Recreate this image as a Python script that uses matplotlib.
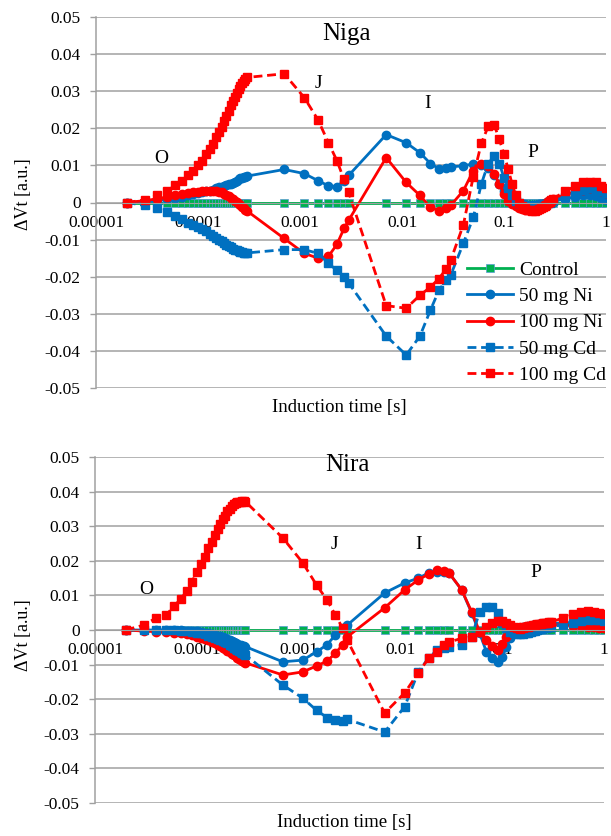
## Delta Vt curves (OJIP induction) for Niga and Nira under Ni / Cd treatment.

import matplotlib
matplotlib.use('Agg')
import matplotlib.pyplot as plt
from matplotlib.ticker import NullLocator

plt.rcParams['font.family'] = ['Liberation Serif', 'DejaVu Serif']

## induction time points [s]
time_s = [0.00002, 0.00003, 0.00004, 0.00005, 0.00006, 0.00007, 0.00008, 0.00009, 0.0001,
          0.00011, 0.00012, 0.00013, 0.00014, 0.00015, 0.00016, 0.00017, 0.00018, 0.00019, 0.0002,
          0.00021, 0.00022, 0.00023, 0.00024, 0.00025, 0.00026, 0.00027, 0.00028, 0.00029, 0.0003,
          0.0007, 0.0011, 0.0015, 0.0019, 0.0023, 0.0027, 0.003,
          0.007, 0.011, 0.015, 0.019, 0.023, 0.027, 0.03,
          0.04, 0.05, 0.06, 0.07, 0.08, 0.09, 0.1, 0.11, 0.12, 0.13, 0.14, 0.15, 0.16, 0.17,
          0.18, 0.19, 0.2, 0.21, 0.22, 0.23, 0.24, 0.25, 0.26, 0.27, 0.28, 0.29, 0.3,
          0.4, 0.5, 0.6, 0.7, 0.8, 0.9, 1.0]

control = [0, 0, 0, 0, 0, 0, 0, 0, 0, 0, 0, 0, 0, 0, 0, 0, 0, 0, 0, 0, 0, 0, 0, 0, 0, 0, 0, 0, 0,
           0, 0, 0, 0, 0, 0, 0,
           0, 0, 0, 0, 0, 0, 0,
           0, 0, 0, 0, 0, 0, 0, 0, 0, 0, 0, 0, 0, 0, 0, 0, 0, 0, 0, 0, 0, 0, 0, 0, 0, 0, 0,
           0, 0, 0, 0, 0, 0, 0]

## Niga
niga_ni50 = [0, 0.0002, 0.0005, 0.0009, 0.0012, 0.0016, 0.0019, 0.0022, 0.0025, 0.0027,
             0.003, 0.0032, 0.0035, 0.0038, 0.0041, 0.0043, 0.0045, 0.0048, 0.005, 0.0051,
             0.0053, 0.0056, 0.0059, 0.0062, 0.0065, 0.0067, 0.0068, 0.007, 0.0071,
             0.0089, 0.0078, 0.0059, 0.0045, 0.0043, 0.0059, 0.0073,
             0.0183, 0.0161, 0.0134, 0.0105, 0.0091, 0.0094, 0.0096,
             0.0099, 0.0104, 0.0102, 0.0094, 0.0075, 0.005, 0.003, 0.0015, 0.0005, -0.0003,
             -0.0008, -0.001, -0.001, -0.001, -0.0009, -0.0008, -0.0007, -0.0006, -0.0005,
             -0.0004, -0.0003, -0.0002, -0.0001, 0.0, 0.0001, 0.0002, 0.0003,
             0.001, 0.0015, 0.002, 0.002, 0.0018, 0.0012, 0.0008]
niga_ni100 = [0, 0.0005, 0.001, 0.0015, 0.0019, 0.0022, 0.0025, 0.0027, 0.0029, 0.003,
              0.0031, 0.0031, 0.0031, 0.003, 0.0029, 0.0027, 0.0024, 0.0021, 0.0017, 0.0013,
              0.0009, 0.0005, 0.0001, -0.0003, -0.0007, -0.0011, -0.0015, -0.0019, -0.0022,
              -0.0097, -0.0137, -0.015, -0.0145, -0.0113, -0.007, -0.0048,
              0.0121, 0.0054, 0.0019, -0.0013, -0.0022, -0.0015, -0.0008,
              0.0032, 0.0086, 0.0105, 0.0099, 0.0078, 0.005, 0.0024, 0.0005, -0.0005, -0.001,
              -0.0015, -0.0018, -0.002, -0.002, -0.002, -0.0018, -0.0015, -0.0012, -0.001,
              -0.0008, -0.0005, -0.0003, 0.0, 0.0003, 0.0005, 0.0008, 0.001,
              0.002, 0.003, 0.0035, 0.004, 0.0038, 0.003, 0.0025]
niga_cd50 = [0, -0.0008, -0.0016, -0.0026, -0.0036, -0.0045, -0.0054, -0.006, -0.0066, -0.0072,
             -0.0078, -0.0084, -0.009, -0.0095, -0.01, -0.0105, -0.011, -0.0114, -0.0118, -0.0121,
             -0.0124, -0.0127, -0.0129, -0.0131, -0.0133, -0.0134, -0.0135, -0.0136, -0.0136,
             -0.0127, -0.0127, -0.0137, -0.0164, -0.0183, -0.0201, -0.0217,
             -0.036, -0.0411, -0.036, -0.029, -0.0237, -0.021, -0.0196,
             -0.011, -0.004, 0.005, 0.0105, 0.0126, 0.0105, 0.0067, 0.004, 0.002, 0.0005,
             0.0, -0.0005, -0.0008, -0.001, -0.001, -0.001, -0.0009, -0.0008, -0.0007,
             -0.0006, -0.0005, -0.0004, -0.0003, -0.0002, 0.0, 0.0002, 0.0004,
             0.0015, 0.0025, 0.0033, 0.0038, 0.0035, 0.003, 0.0025]
niga_cd100 = [0, 0.0007, 0.0019, 0.0032, 0.0046, 0.0059, 0.0073, 0.0086, 0.01, 0.0113,
              0.0131, 0.0145, 0.0158, 0.0176, 0.0189, 0.0203, 0.0221, 0.0234, 0.0247, 0.0262,
              0.0274, 0.0285, 0.0296, 0.0306, 0.0315, 0.0322, 0.0328, 0.0333, 0.0337,
              0.0347, 0.0283, 0.0223, 0.0161, 0.0113, 0.0062, 0.0027,
              -0.0278, -0.0285, -0.025, -0.0228, -0.0205, -0.018, -0.0156,
              -0.006, 0.007, 0.016, 0.0205, 0.021, 0.017, 0.013, 0.009, 0.005, 0.002,
              0.0, -0.001, -0.0015, -0.002, -0.002, -0.0022, -0.0022, -0.002, -0.0018,
              -0.0015, -0.0012, -0.001, -0.0006, -0.0002, 0.0002, 0.0006, 0.001,
              0.003, 0.0045, 0.0054, 0.0055, 0.0054, 0.0045, 0.0038]

## Nira
nira_ni50 = [0, 0, 0, 0, 0, -0.0001, -0.0002, -0.0003, -0.0004, -0.0006,
             -0.0008, -0.001, -0.0012, -0.0014, -0.0016, -0.0018, -0.002, -0.0023, -0.0026, -0.0029,
             -0.0032, -0.0035, -0.0038, -0.004, -0.0042, -0.0044, -0.0046, -0.0047, -0.0048,
             -0.0092, -0.0087, -0.0063, -0.0043, -0.0014, 0.0006, 0.0014,
             0.0107, 0.0136, 0.015, 0.0165, 0.0168, 0.0168, 0.0165,
             0.0116, 0.005, -0.0009, -0.0063, -0.008, -0.0092, -0.0078, -0.005, -0.0024, -0.0008,
             0.0, 0.0005, 0.0008, 0.001, 0.0012, 0.0013, 0.0014, 0.0015, 0.0015,
             0.0016, 0.0016, 0.0017, 0.0017, 0.0018, 0.0018, 0.0019, 0.0019,
             0.002, 0.0022, 0.0024, 0.0025, 0.0025, 0.0024, 0.0023]
nira_ni100 = [0, -0.0003, -0.0005, -0.0007, -0.0008, -0.001, -0.0012, -0.0015, -0.0019, -0.0022,
              -0.0026, -0.003, -0.0034, -0.0038, -0.0043, -0.0047, -0.0052, -0.0056, -0.006, -0.0064,
              -0.0068, -0.0072, -0.0076, -0.008, -0.0083, -0.0086, -0.0089, -0.0092, -0.0095,
              -0.013, -0.0121, -0.0104, -0.009, -0.0067, -0.0043, -0.002,
              0.0064, 0.0116, 0.0145, 0.0162, 0.0173, 0.017, 0.0165,
              0.0116, 0.0053, -0.0005, -0.003, -0.0045, -0.0058, -0.004, -0.002, -0.0008, 0.0,
              0.0005, 0.0008, 0.001, 0.0011, 0.0012, 0.0013, 0.0014, 0.0014, 0.0015,
              0.0015, 0.0015, 0.0015, 0.0015, 0.0015, 0.0015, 0.0015, 0.0015,
              0.0014, 0.0013, 0.0012, 0.001, 0.0009, 0.0007, 0.0006]
nira_cd50 = [0, 0, 0, 0, -0.0001, -0.0002, -0.0003, -0.0005, -0.0008, -0.001,
             -0.0013, -0.0016, -0.0019, -0.0022, -0.0025, -0.0028, -0.0031, -0.0035, -0.0039, -0.0043,
             -0.0047, -0.0051, -0.0055, -0.0058, -0.0061, -0.0064, -0.0067, -0.007, -0.0072,
             -0.0159, -0.0197, -0.0232, -0.0253, -0.026, -0.0262, -0.0258,
             -0.0295, -0.0222, -0.0121, -0.008, -0.0058, -0.0052, -0.0048,
             -0.0043, -0.002, 0.0052, 0.0066, 0.0066, 0.005, 0.002, 0.0005, -0.0005, -0.001,
             -0.0012, -0.0012, -0.0011, -0.001, -0.0008, -0.0006, -0.0004, -0.0002, 0.0,
             0.0002, 0.0004, 0.0005, 0.0006, 0.0007, 0.0008, 0.0009, 0.001,
             0.0015, 0.002, 0.0025, 0.003, 0.003, 0.0028, 0.0025]
nira_cd100 = [0, 0.0014, 0.0035, 0.0043, 0.007, 0.009, 0.0114, 0.014, 0.0168, 0.019,
              0.021, 0.0236, 0.0255, 0.0274, 0.0293, 0.0305, 0.032, 0.033, 0.0343, 0.035,
              0.0358, 0.0363, 0.0366, 0.0369, 0.037, 0.0371, 0.0372, 0.0372, 0.0371,
              0.0266, 0.0194, 0.013, 0.0087, 0.0043, 0.0006, -0.0029,
              -0.024, -0.0182, -0.0124, -0.0081, -0.0063, -0.0043, -0.0035,
              -0.0024, -0.002, -0.0005, 0.001, 0.002, 0.0025, 0.0025, 0.002, 0.0015, 0.001,
              0.0005, 0.0003, 0.0005, 0.0008, 0.001, 0.0012, 0.0014, 0.0015, 0.0016,
              0.0017, 0.0018, 0.0019, 0.002, 0.002, 0.0021, 0.0022, 0.0023,
              0.0035, 0.0045, 0.0052, 0.0055, 0.0053, 0.005, 0.0045]

series_names = ['Control', '50 mg Ni', '100 mg Ni', '50 mg Cd', '100 mg Cd']
x_ticks = [0.00001, 0.0001, 0.001, 0.01, 0.1, 1]
x_labels = ['0.00001', '0.0001', '0.001', '0.01', '0.1', '1']
y_ticks = [0.05, 0.04, 0.03, 0.02, 0.01, 0, -0.01, -0.02, -0.03, -0.04, -0.05]
y_labels = ['0.05', '0.04', '0.03', '0.02', '0.01', '0', '-0.01', '-0.02', '-0.03', '-0.04', '-0.05']

GREEN = '#00B050'
BLUE = '#0070C0'
RED = '#FF0000'
GRAY = '#A0A0A0'
DASH = (3.2, 1.7)


def draw_panel(ax, ni50, ni100, cd50, cd100, title, title_pos, letters):
  kw = dict(lw=2.0, ms=6)
  ax.plot(time_s, control, color=GREEN, marker='s', mec='#5B9BD5', mew=0.5,
          label=series_names[0], **kw)
  ax.plot(time_s, ni50, color=BLUE, marker='o', label=series_names[1], **kw)
  ax.plot(time_s, ni100, color=RED, marker='o', label=series_names[2], **kw)
  ax.plot(time_s, cd50, color=BLUE, marker='s', dashes=DASH, label=series_names[3], **kw)
  ax.plot(time_s, cd100, color=RED, marker='s', dashes=DASH, label=series_names[4], **kw)

  ax.set_xscale('log')
  ax.set_xlim(1e-5, 1)
  ax.set_ylim(-0.05, 0.05)
  ax.set_xticks(x_ticks)
  ax.set_xticklabels(x_labels)
  ax.xaxis.set_minor_locator(NullLocator())
  ax.set_yticks(y_ticks)
  ax.set_yticklabels(y_labels)
  ax.grid(axis='y', color=GRAY, lw=1.1)
  ax.set_axisbelow(True)

  for s in ['top', 'right']:
    ax.spines[s].set_visible(False)
  ax.spines['bottom'].set_position(('data', 0))
  ax.spines['bottom'].set_color(GRAY)
  ax.spines['left'].set_color(GRAY)
  ax.spines['left'].set_linewidth(1.1)
  ax.tick_params(axis='x', length=0, pad=9, labelsize=12.5)
  ax.tick_params(axis='y', length=4, width=1, color=GRAY, pad=7, labelsize=12.5)

  ax.text(title_pos[0], title_pos[1], title, fontsize=18, ha='center', va='center')
  for lab, (lx, ly) in letters.items():
    ax.text(lx, ly, lab, fontsize=14, ha='center', va='center')

  ax.set_xlabel('Induction time [s]', fontsize=13.5)
  ax.set_ylabel('\u0394Vt [a.u.]', fontsize=13)


fig = plt.figure(figsize=(6.11, 8.36), dpi=100)
ax1 = fig.add_axes([96/611, 1-388/836, 510/611, 371/836])
ax2 = fig.add_axes([95/611, 1-803/836, 509/611, 346/836])

draw_panel(ax1, niga_ni50, niga_ni100, niga_cd50, niga_cd100, 'Niga', (0.00286, 0.0454),
           {'O': (0.000044, 0.0118), 'J': (0.0015, 0.032), 'I': (0.018, 0.0266), 'P': (0.19, 0.0134)})
draw_panel(ax2, nira_ni50, nira_ni100, nira_cd50, nira_cd100, 'Nira', (0.003, 0.0477),
           {'O': (0.0000316, 0.0116), 'J': (0.00225, 0.0246), 'I': (0.015, 0.0246), 'P': (0.214, 0.0165)})

ax1.xaxis.set_label_coords(0.477, -0.030)
ax1.yaxis.set_label_coords(-0.125, 0.523)
ax2.xaxis.set_label_coords(0.49, -0.033)
ax2.yaxis.set_label_coords(-0.124, 0.486)

ax1.legend(loc='upper left', bbox_to_anchor=(467/611, 1-261/836), bbox_transform=fig.transFigure,
           frameon=False, fontsize=14, handlelength=2.37, handletextpad=0.3,
           labelspacing=0.45, borderpad=0, borderaxespad=0)

fig.savefig('out.png', dpi=100)
